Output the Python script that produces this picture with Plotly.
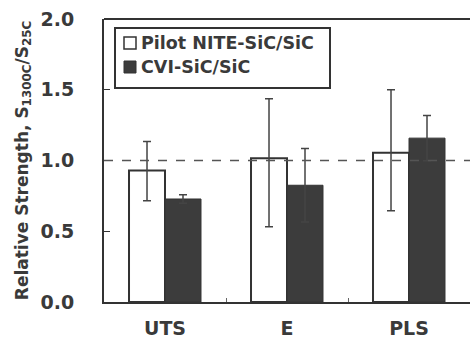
import plotly.graph_objects as go

categories = ["UTS", "E", "PLS"]
nite_values = [0.93, 1.016, 1.055]
nite_err_plus = [0.205, 0.42, 0.445]
nite_err_minus = [0.215, 0.485, 0.41]
cvi_values = [0.728, 0.825, 1.158]
cvi_err = [0.03, 0.26, 0.16]
series_names = ["Pilot NITE-SiC/SiC", "CVI-SiC/SiC"]
y_ticks = [0.0, 0.5, 1.0, 1.5, 2.0]

INK = "#333333"
TXT = "#3a3a3a"
DARK = "#3c3c3c"
FONT = "DejaVu Sans"

W, H = 470, 339
ML, MR, MT, MB = 104, 0, 19, 37
PW, PH = W - ML - MR, H - MT - MB


def px(x):
    return (x - ML) / PW


def py(y):
    return (H - MB - y) / PH


fig = go.Figure()
fig.add_trace(go.Bar(
    x=categories, y=nite_values, name=series_names[0],
    marker=dict(color="white", line=dict(color=INK, width=2)),
    error_y=dict(type="data", array=nite_err_plus, arrayminus=nite_err_minus,
                 symmetric=False, color="#444444", thickness=1.5, width=4),
))
fig.add_trace(go.Bar(
    x=categories, y=cvi_values, name=series_names[1],
    marker=dict(color=DARK, line=dict(color=INK, width=1)),
    error_y=dict(type="data", array=cvi_err, color="#444444", thickness=1.5, width=4),
))

fig.add_hline(y=1.0, line=dict(color="#555555", width=1.5, dash="dash"))
# top frame line
fig.add_shape(type="line", xref="paper", yref="paper", x0=0, x1=1, y0=1, y1=1,
              line=dict(color=INK, width=2))

# legend box (drawn manually to match the original layout)
fig.add_shape(type="rect", xref="paper", yref="paper",
              x0=px(115), x1=px(330), y0=py(88), y1=py(28),
              line=dict(color=INK, width=2), fillcolor="white")
fig.add_shape(type="rect", xref="paper", yref="paper",
              x0=px(124), x1=px(136), y0=py(49), y1=py(37),
              line=dict(color=INK, width=1.5), fillcolor="white")
fig.add_shape(type="rect", xref="paper", yref="paper",
              x0=px(124), x1=px(136), y0=py(73), y1=py(61),
              line=dict(color=INK, width=1), fillcolor=DARK)
for name, yc in zip(series_names, [43, 67]):
    fig.add_annotation(xref="paper", yref="paper", x=px(139), y=py(yc),
                       xanchor="left", yanchor="middle", showarrow=False,
                       text=name,
                       font=dict(family=FONT, size=17.5, color=TXT, weight="bold"))

fig.update_layout(
    width=W, height=H,
    margin=dict(l=ML, r=MR, t=MT, b=MB),
    paper_bgcolor="white", plot_bgcolor="white",
    barmode="group", bargap=0.41, bargroupgap=0,
    font=dict(family=FONT, color=TXT),
    showlegend=False,
)
fig.update_xaxes(
    showline=True, linecolor=INK, linewidth=2,
    ticks="inside", tickson="boundaries", ticklen=4, tickcolor="#666666",
    tickfont=dict(family=FONT, size=19, color=TXT, weight="bold"),
    ticklabelstandoff=8,
    showgrid=False, range=[-0.5, 2.5],
)
fig.update_yaxes(
    range=[0, 2.0], tickvals=y_ticks, tickformat=".1f",
    showline=True, linecolor=INK, linewidth=2,
    ticks="inside", ticklen=6, tickcolor=INK,
    tickfont=dict(family=FONT, size=19, color=TXT, weight="bold"),
    ticklabelstandoff=24,
    showgrid=False, zeroline=False,
    title=dict(text="Relative Strength, S<sub>1300C</sub>/S<sub>25C</sub>",
               font=dict(family=FONT, size=17, color=TXT, weight="bold"),
               standoff=8),
)

fig.write_html("out.html", config={"displayModeBar": False},
               post_script="document.body.style.margin='0';document.body.style.overflow='hidden';")
